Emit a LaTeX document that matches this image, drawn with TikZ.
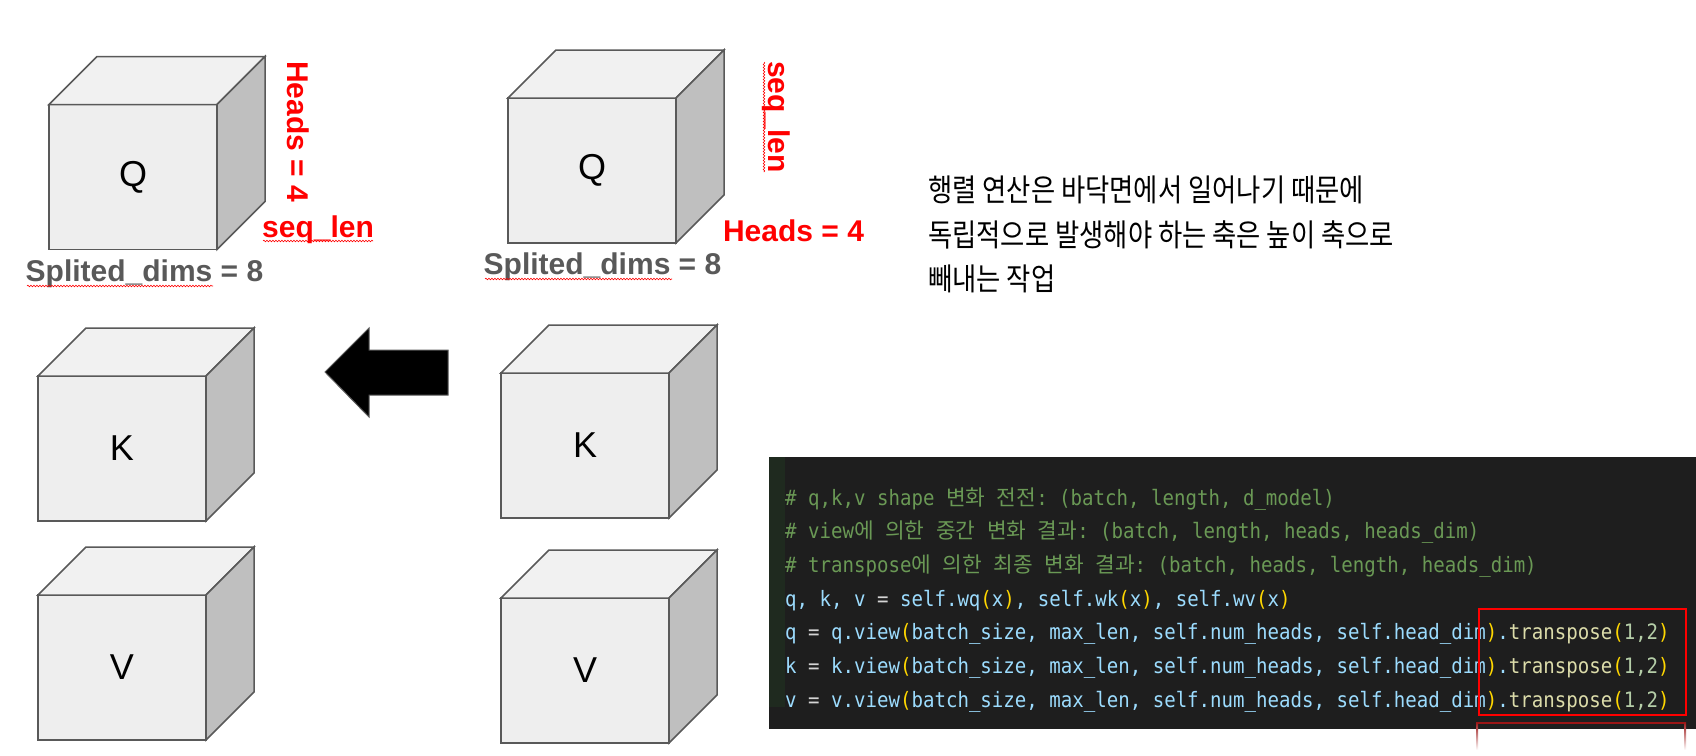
\documentclass[tikz,border=0pt]{standalone}
\usepackage{fontspec}
\setmainfont{Liberation Sans}
\newfontfamily\codefont[FakeStretch=0.9]{DejaVu Sans Mono}
\newfontfamily\krfont[FakeStretch=0.85]{Noto Sans CJK KR}
\newfontfamily\krmono{Noto Sans CJK KR}
\usetikzlibrary{decorations.pathmorphing}
\definecolor{cfront}{HTML}{EEEEEE}
\definecolor{ctop}{HTML}{F1F1F1}
\definecolor{cside}{HTML}{BFBFBF}
\definecolor{cedge}{HTML}{595959}
\definecolor{cgraytext}{HTML}{595959}
\definecolor{cred}{HTML}{FF0000}
\definecolor{cbg}{HTML}{1E1E1E}
\definecolor{cgutter}{HTML}{1F2A1F}
\definecolor{ccomment}{HTML}{6A9955}
\definecolor{cident}{HTML}{9CDCFE}
\definecolor{cop}{HTML}{D4D4D4}
\definecolor{cgold}{HTML}{FFD700}
\definecolor{cfn}{HTML}{DCDCAA}
\definecolor{cnum}{HTML}{B5CEA8}
\definecolor{cdarkred}{HTML}{9B1515}
\newcommand\kc[1]{{\krmono\fontsize{21.4}{23}\selectfont #1}}
\newcommand\pp[1]{\textcolor{cgold}{#1}}
\newcommand\opc[1]{\textcolor{cop}{#1}}
\newcommand\fnc[1]{\textcolor{cfn}{#1}}
\newcommand\numc[1]{\textcolor{cnum}{#1}}
\newcommand\drawcubesides[1]{%
  \filldraw[cubeedge, fill=ctop] (#1.north west) -- ++(48,-48) -- ++(168,0) -- (#1.north east) -- cycle;
  \filldraw[cubeedge, fill=cside] (#1.north east) -- ++(48,-48) -- ++(0,145) -- (#1.south east) -- cycle;
}
\tikzset{
  cubeedge/.style={draw=cedge, line width=1.5pt, line join=miter},
  cubefrontbox/.style={draw=cedge, fill=cfront, line width=1.5pt, minimum width=168pt, minimum height=145pt, inner sep=0pt, outer sep=0pt, font=\fontsize{36}{40}\selectfont},
  redlabel/.style={text=cred, inner sep=0pt, font=\fontsize{30}{34}\selectfont\bfseries},
  graylabel/.style={text=cgraytext, inner sep=0pt, font=\fontsize{30}{34}\selectfont\bfseries},
  squig/.style={draw=red, line width=0.6pt, decorate, decoration={snake, amplitude=0.8pt, segment length=3pt}},
  krline/.style={anchor=base west, inner sep=0pt, font=\krfont\fontsize{31}{36}\selectfont},
  codeline/.style={anchor=base west, inner sep=0pt, text=cident, font=\fontsize{21.2}{24}\selectfont\codefont\frenchspacing},
}
\begin{document}
\begin{tikzpicture}[x=1pt,y=-1pt]
\useasboundingbox (0,0) rectangle (1696,755);
\fill[white] (0,0) rectangle (1696,755);

% cubes
\node[cubefrontbox] (q1) at (133,177) {Q};
\drawcubesides{q1}
\node[cubefrontbox] (q2) at (592,170.5) {Q};
\drawcubesides{q2}
\node[cubefrontbox] (k1) at (122,448.5) {K};
\drawcubesides{k1}
\node[cubefrontbox] (v1) at (122,667.5) {V};
\drawcubesides{v1}
\node[cubefrontbox] (k2) at (585,445.5) {K};
\drawcubesides{k2}
\node[cubefrontbox] (v2) at (585,670.5) {V};
\drawcubesides{v2}

% labels of left Q
\node[redlabel, rotate=-90, anchor=base] (q1heads) at (287,131.5) {Heads = 4};
\node[redlabel, anchor=base] (q1seq) at (318,237) {seq\_len};
\node[graylabel, anchor=base] (q1dims) at (144.5,281) {Splited\_dims = 8};
\draw[squig] (263,241) -- (373,241);
\draw[squig] (27,286) -- (213,286);

% labels of right Q
\node[redlabel, rotate=-90, anchor=base] (q2seq) at (768,117) {seq\_len};
\node[redlabel, anchor=base] (q2heads) at (793.5,241) {Heads = 4};
\node[graylabel, anchor=base] (q2dims) at (602.5,274) {Splited\_dims = 8};
\draw[squig] (764,62) -- (764,172);
\draw[squig] (485,279) -- (672,279);

% arrow
\filldraw[fill=black, draw=cedge, line width=1pt] (325,372) -- (369,328) -- (369,350) -- (448,350) -- (448,395) -- (369,395) -- (369,417) -- cycle;

% description
\node[krline] (d1) at (928,201) {행렬 연산은 바닥면에서 일어나기 때문에};
\node[krline] (d2) at (928,246) {독립적으로 발생해야 하는 축은 높이 축으로};
\node[krline] (d3) at (928,290) {빼내는 작업};

% code box
\fill[cbg] (769,457) rectangle (1696,729);
\fill[cgutter] (769,457) rectangle (785,707);
\node[codeline] (c1) at (785,505) {\textcolor{ccomment}{\# q,k,v shape \kc{변화} \kc{전전}: (batch, length, d\_model)}};
\node[codeline] (c2) at (785,538.5) {\textcolor{ccomment}{\# view\kc{에} \kc{의한} \kc{중간} \kc{변화} \kc{결과}: (batch, length, heads, heads\_dim)}};
\node[codeline] (c3) at (785,572) {\textcolor{ccomment}{\# transpose\kc{에} \kc{의한} \kc{최종} \kc{변화} \kc{결과}: (batch, heads, length, heads\_dim)}};
\node[codeline] (c4) at (785,606) {q, k, v \opc{=} self.wq\pp{(}x\pp{)}, self.wk\pp{(}x\pp{)}, self.wv\pp{(}x\pp{)}};
\node[codeline] (c5) at (785,639.5) {q \opc{=} q.view\pp{(}batch\_size, max\_len, self.num\_heads, self.head\_dim\pp{)}.\fnc{transpose}\pp{(}\numc{1,2}\pp{)}};
\node[codeline] (c6) at (785,673) {k \opc{=} k.view\pp{(}batch\_size, max\_len, self.num\_heads, self.head\_dim\pp{)}.\fnc{transpose}\pp{(}\numc{1,2}\pp{)}};
\node[codeline] (c7) at (785,707) {v \opc{=} v.view\pp{(}batch\_size, max\_len, self.num\_heads, self.head\_dim\pp{)}.\fnc{transpose}\pp{(}\numc{1,2}\pp{)}};

% highlight boxes
\node[draw=cred, line width=2pt, minimum width=207pt, minimum height=106pt, anchor=north west, inner sep=0pt] (hl) at (1478,608) {};
\draw[cdarkred, line width=2pt] (1477,723) -- (1685,723);
\shade[top color=cdarkred, bottom color=white] (1476,722) rectangle (1478,750);
\shade[top color=cdarkred, bottom color=white] (1684,722) rectangle (1686,750);
\end{tikzpicture}
\end{document}
